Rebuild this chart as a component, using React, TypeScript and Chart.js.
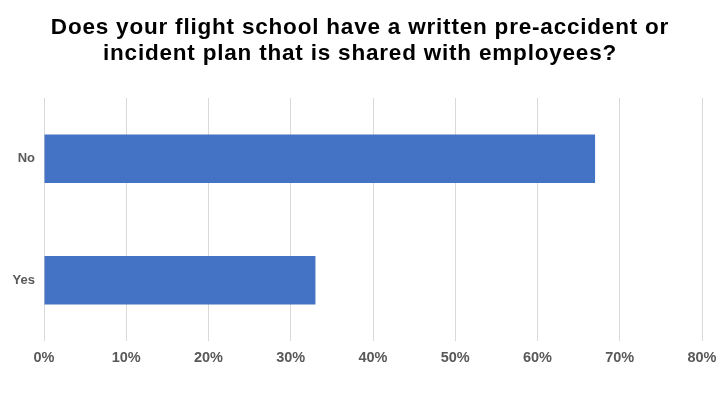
import React, { useEffect, useRef } from "react";
import { Chart, registerables } from "chart.js";

Chart.register(...registerables);

const categories = ["No", "Yes"];
const values = [67, 33];
const xTicks = [0, 10, 20, 30, 40, 50, 60, 70, 80];
const titleLines = [
  "Does your flight school have a written pre-accident or",
  "incident plan that is shared with employees?",
];

const FONT = "Liberation Sans, Arial, sans-serif";

const titlePlugin = {
  id: "spacedTitle",
  afterDraw(chart: any) {
    const ctx = chart.ctx as CanvasRenderingContext2D;
    ctx.save();
    ctx.font = `bold 22.5px ${FONT}`;
    (ctx as any).letterSpacing = "0.8px";
    ctx.fillStyle = "#000000";
    ctx.textAlign = "center";
    ctx.textBaseline = "alphabetic";
    const cx = chart.width / 2;
    titleLines.forEach((line, i) => {
      ctx.fillText(line, cx, 34 + i * 26);
    });
    ctx.restore();
  },
};

export default function App() {
  const ref = useRef<HTMLCanvasElement>(null);
  useEffect(() => {
    document.body.style.margin = "0";
    const ctx = ref.current!;
    const chart = new Chart(ctx, {
      type: "bar",
      data: {
        labels: categories,
        datasets: [
          {
            data: values,
            backgroundColor: "#4472C4",
            barPercentage: 0.4,
            categoryPercentage: 1,
          },
        ],
      },
      options: {
        indexAxis: "y",
        animation: false,
        responsive: false,
        layout: { padding: { left: 0, right: 0, top: 98, bottom: 0 } },
        plugins: {
          legend: { display: false },
          tooltip: { enabled: false },
          title: { display: false },
        },
        scales: {
          x: {
            min: 0,
            max: 80,
            afterBuildTicks: (axis: any) => {
              axis.ticks = xTicks.map((v) => ({ value: v }));
            },
            ticks: {
              callback: (v: any) => v + "%",
              color: "#595959",
              font: { family: FONT, size: 14.5, weight: "bold" },
              padding: 8,
              maxRotation: 0,
            },
            grid: { color: "#d9d9d9", drawTicks: false },
            border: { display: false },
            afterFit: (axis: any) => {
              axis.height = 64;
              axis.paddingRight = 18;
            },
          },
          y: {
            ticks: {
              color: "#595959",
              font: { family: FONT, size: 13, weight: "bold" },
              padding: 9,
            },
            grid: { display: false, drawTicks: false },
            border: { display: false },
            afterFit: (axis: any) => {
              axis.width = 44;
            },
          },
        },
      },
      plugins: [titlePlugin],
    });
    return () => chart.destroy();
  }, []);
  return <canvas ref={ref} width={720} height={405} style={{ display: "block" }} />;
}
